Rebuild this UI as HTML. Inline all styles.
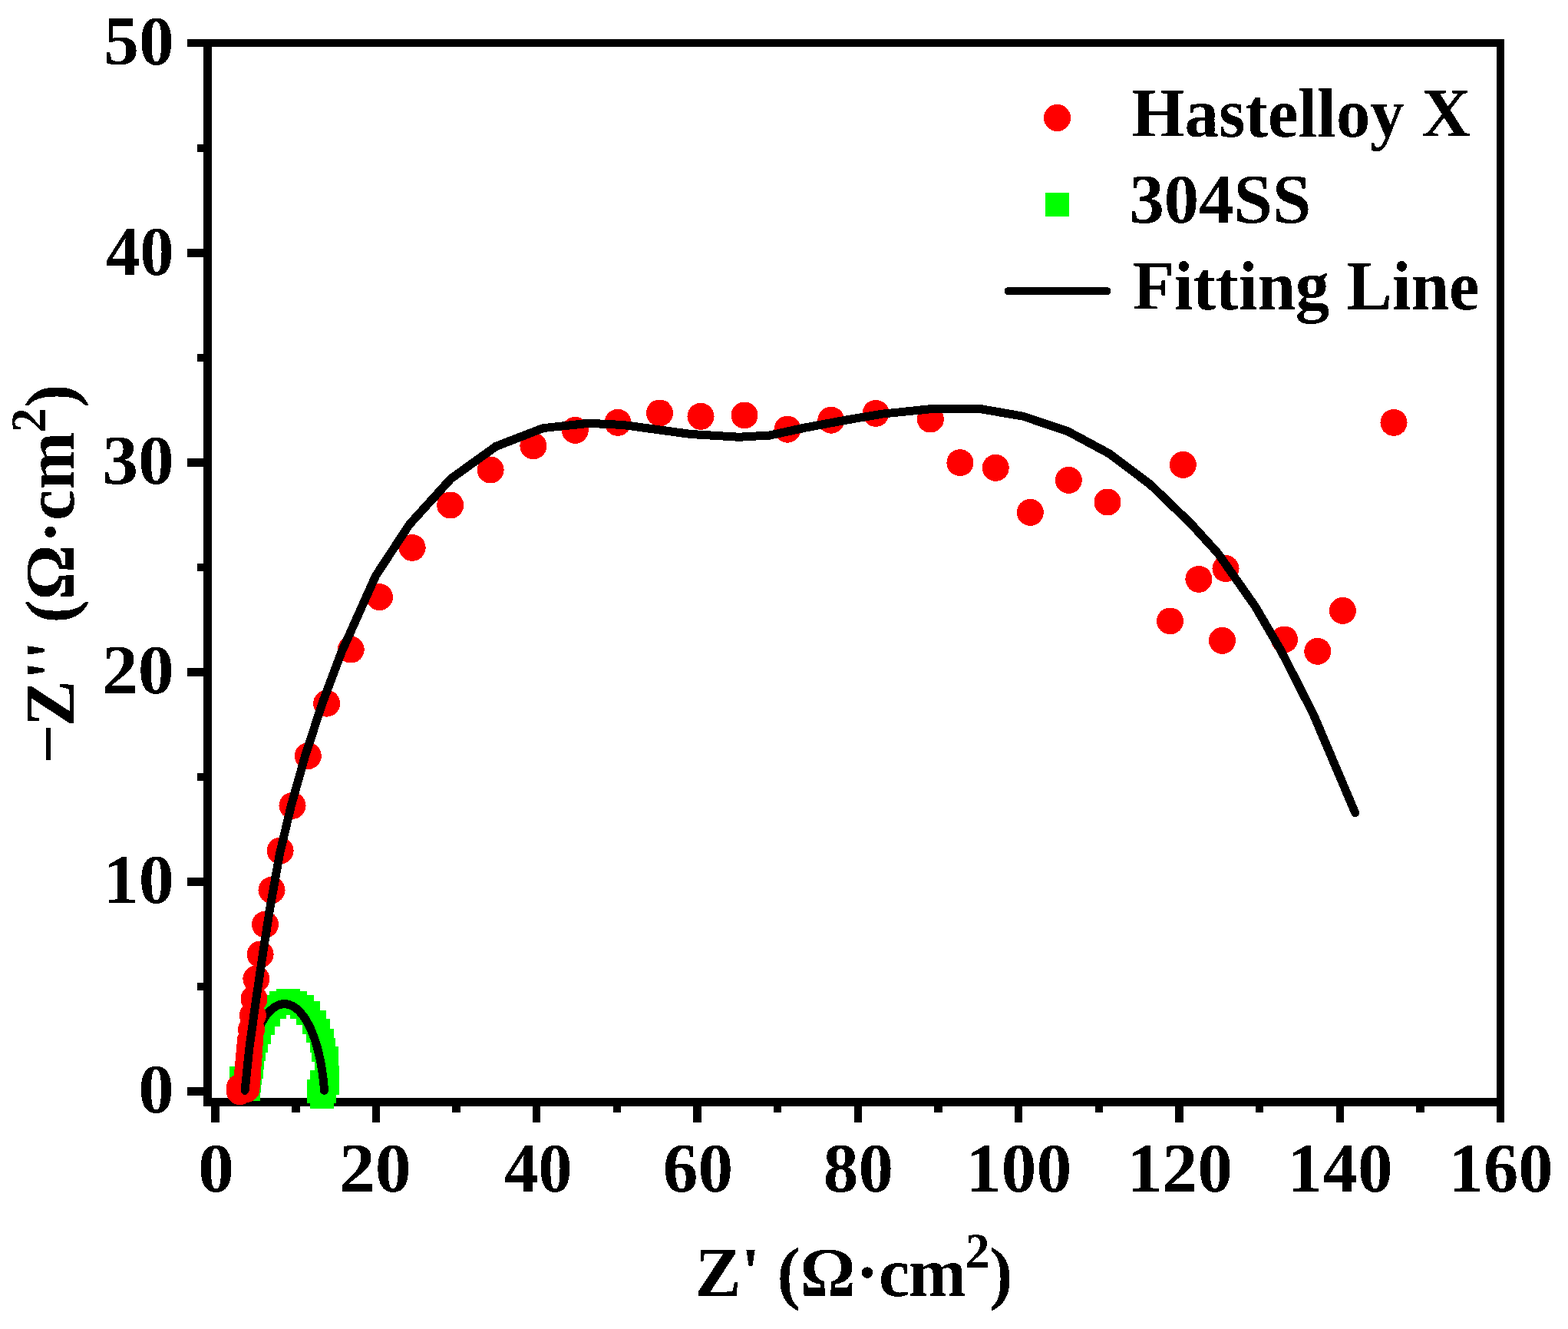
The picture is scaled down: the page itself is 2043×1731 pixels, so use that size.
<!DOCTYPE html>
<html lang="en"><head><meta charset="utf-8"><title>Nyquist plot</title>
<style>
html,body{margin:0;padding:0;background:#fff;}
body{width:2043px;height:1731px;overflow:hidden;}
svg{display:block;}
text{font-family:"Liberation Serif", "DejaVu Serif", serif;font-weight:bold;fill:#000;}
</style></head><body>
<svg xmlns="http://www.w3.org/2000/svg" width="2043" height="1731" viewBox="0 0 2043 1731">
<defs><filter id="hard" filterUnits="userSpaceOnUse" x="0" y="0" width="2043" height="1731" color-interpolation-filters="sRGB"><feComponentTransfer><feFuncR type="discrete" tableValues="0 1"/><feFuncG type="discrete" tableValues="0 1"/><feFuncB type="discrete" tableValues="0 1"/><feFuncA type="discrete" tableValues="0 1"/></feComponentTransfer></filter></defs>
<rect x="0" y="0" width="2043" height="1731" fill="#fff"/>
<g filter="url(#hard)">
<g fill="#000" shape-rendering="crispEdges">
<rect x="265" y="51" width="11" height="1390"/>
<rect x="1950" y="51" width="10" height="1390"/>
<rect x="265" y="51" width="1695" height="10"/>
<rect x="265" y="1430" width="1695" height="11"/>
<rect x="244" y="1416" width="22" height="11"/>
<rect x="257" y="1280" width="9" height="10"/>
<rect x="244" y="1143" width="22" height="11"/>
<rect x="257" y="1007" width="9" height="10"/>
<rect x="244" y="870" width="22" height="11"/>
<rect x="257" y="734" width="9" height="10"/>
<rect x="244" y="597" width="22" height="11"/>
<rect x="257" y="461" width="9" height="10"/>
<rect x="244" y="324" width="22" height="11"/>
<rect x="257" y="188" width="9" height="10"/>
<rect x="244" y="51" width="22" height="10"/>
<rect x="275" y="1440" width="11" height="22"/>
<rect x="380" y="1440" width="11" height="9"/>
<rect x="485" y="1440" width="10" height="22"/>
<rect x="589" y="1440" width="11" height="9"/>
<rect x="694" y="1440" width="10" height="22"/>
<rect x="799" y="1440" width="10" height="9"/>
<rect x="903" y="1440" width="11" height="22"/>
<rect x="1008" y="1440" width="10" height="9"/>
<rect x="1113" y="1440" width="10" height="22"/>
<rect x="1217" y="1440" width="11" height="9"/>
<rect x="1322" y="1440" width="10" height="22"/>
<rect x="1427" y="1440" width="10" height="9"/>
<rect x="1531" y="1440" width="11" height="22"/>
<rect x="1636" y="1440" width="10" height="9"/>
<rect x="1741" y="1440" width="10" height="22"/>
<rect x="1845" y="1440" width="11" height="9"/>
<rect x="1950" y="1440" width="10" height="22"/>
</g>
<g fill="#00ff00" shape-rendering="crispEdges">
<rect x="299.0" y="1389.0" width="31" height="31"/>
<rect x="303.0" y="1396.0" width="31" height="31"/>
<rect x="308.0" y="1403.0" width="31" height="31"/>
<rect x="309.0" y="1392.0" width="31" height="31"/>
<rect x="310.0" y="1382.0" width="31" height="31"/>
<rect x="312.0" y="1374.0" width="31" height="31"/>
<rect x="313.0" y="1362.0" width="31" height="31"/>
<rect x="315.0" y="1351.0" width="31" height="31"/>
<rect x="318.0" y="1340.0" width="31" height="31"/>
<rect x="322.0" y="1329.0" width="31" height="31"/>
<rect x="327.0" y="1317.0" width="31" height="31"/>
<rect x="334.0" y="1306.0" width="31" height="31"/>
<rect x="342.0" y="1296.0" width="31" height="31"/>
<rect x="351.0" y="1291.0" width="31" height="31"/>
<rect x="360.0" y="1288.0" width="31" height="31"/>
<rect x="369.0" y="1291.0" width="31" height="31"/>
<rect x="378.0" y="1296.0" width="31" height="31"/>
<rect x="386.0" y="1304.0" width="31" height="31"/>
<rect x="394.0" y="1316.0" width="31" height="31"/>
<rect x="399.0" y="1327.0" width="31" height="31"/>
<rect x="404.0" y="1340.0" width="31" height="31"/>
<rect x="406.0" y="1352.0" width="31" height="31"/>
<rect x="410.0" y="1363.0" width="31" height="31"/>
<rect x="410.0" y="1377.0" width="31" height="31"/>
<rect x="411.0" y="1388.0" width="31" height="31"/>
<rect x="411.0" y="1395.0" width="31" height="31"/>
<rect x="407.0" y="1406.0" width="31" height="31"/>
<rect x="404.0" y="1413.0" width="31" height="31"/>
<rect x="400.0" y="1406.0" width="31" height="31"/>
<rect x="404.0" y="1394.0" width="31" height="31"/>
</g>
<polyline fill="none" stroke="#000" stroke-width="11" stroke-linecap="round" stroke-linejoin="round" points="319.0,1420.1 319.5,1413.9 320.1,1407.7 320.8,1401.7 321.6,1395.7 322.5,1389.8 323.6,1384.0 324.7,1378.4 325.9,1372.9 327.2,1367.6 328.7,1362.4 330.2,1357.4 331.8,1352.6 333.4,1348.0 335.2,1343.6 337.0,1339.4 338.9,1335.5 340.9,1331.7 343.0,1328.3 345.1,1325.0 347.2,1322.1 349.4,1319.4 351.7,1316.9 354.0,1314.8 356.3,1312.9 358.6,1311.3 361.0,1310.0 363.4,1308.9 365.9,1308.2 368.3,1307.8 370.7,1307.6 373.2,1307.8 375.6,1308.2 378.0,1308.9 380.4,1310.0 382.8,1311.3 385.2,1312.9 387.5,1314.8 389.8,1316.9 392.0,1319.4 394.2,1322.1 396.4,1325.1 398.5,1328.3 400.5,1331.8 402.5,1335.5 404.4,1339.4 406.2,1343.6 408.0,1348.0 409.7,1352.6 411.3,1357.4 412.8,1362.4 414.2,1367.6 415.5,1372.9 416.7,1378.4 417.9,1384.1 418.9,1389.8 419.8,1395.7 420.7,1401.7 421.4,1407.8 422.0,1413.9 422.5,1420.2"/>
<g fill="#ff0000">
<circle cx="312.5" cy="1416.2" r="17.5"/>
<circle cx="312.5" cy="1421.7" r="17.5"/>
<circle cx="321.0" cy="1418.5" r="17.5"/>
<circle cx="321.6" cy="1412.0" r="17.5"/>
<circle cx="322.2" cy="1405.0" r="17.5"/>
<circle cx="322.8" cy="1396.0" r="17.5"/>
<circle cx="323.4" cy="1386.0" r="17.5"/>
<circle cx="324.2" cy="1376.0" r="17.5"/>
<circle cx="325.0" cy="1366.0" r="17.5"/>
<circle cx="326.0" cy="1356.0" r="17.5"/>
<circle cx="327.5" cy="1340.7" r="17.5"/>
<circle cx="329.3" cy="1322.5" r="17.5"/>
<circle cx="331.0" cy="1301.0" r="17.5"/>
<circle cx="333.9" cy="1275.0" r="17.5"/>
<circle cx="339.1" cy="1243.0" r="17.5"/>
<circle cx="345.5" cy="1204.1" r="17.5"/>
<circle cx="354.0" cy="1159.3" r="17.5"/>
<circle cx="365.1" cy="1108.1" r="17.5"/>
<circle cx="381.0" cy="1049.4" r="17.5"/>
<circle cx="401.3" cy="984.6" r="17.5"/>
<circle cx="425.6" cy="916.2" r="17.5"/>
<circle cx="457.2" cy="846.1" r="17.5"/>
<circle cx="494.5" cy="777.6" r="17.5"/>
<circle cx="537.1" cy="713.4" r="17.5"/>
<circle cx="586.7" cy="658.0" r="17.5"/>
<circle cx="639.1" cy="612.0" r="17.5"/>
<circle cx="694.9" cy="580.9" r="17.5"/>
<circle cx="749.3" cy="560.3" r="17.5"/>
<circle cx="805.0" cy="550.3" r="17.5"/>
<circle cx="859.5" cy="538.0" r="17.5"/>
<circle cx="913.0" cy="542.3" r="17.5"/>
<circle cx="970.0" cy="540.9" r="17.5"/>
<circle cx="1026.0" cy="559.2" r="17.5"/>
<circle cx="1082.8" cy="547.2" r="17.5"/>
<circle cx="1141.1" cy="538.4" r="17.5"/>
<circle cx="1212.3" cy="546.0" r="17.5"/>
<circle cx="1250.9" cy="602.7" r="17.5"/>
<circle cx="1297.2" cy="609.3" r="17.5"/>
<circle cx="1342.3" cy="667.3" r="17.5"/>
<circle cx="1392.3" cy="625.3" r="17.5"/>
<circle cx="1443.0" cy="654.0" r="17.5"/>
<circle cx="1541.3" cy="605.3" r="17.5"/>
<circle cx="1524.6" cy="808.9" r="17.5"/>
<circle cx="1561.9" cy="754.4" r="17.5"/>
<circle cx="1597.0" cy="740.6" r="17.5"/>
<circle cx="1592.5" cy="834.4" r="17.5"/>
<circle cx="1673.5" cy="832.9" r="17.5"/>
<circle cx="1716.8" cy="848.3" r="17.5"/>
<circle cx="1749.4" cy="795.4" r="17.5"/>
<circle cx="1816.0" cy="550.4" r="17.5"/>
</g>
<polyline fill="none" stroke="#000" stroke-width="11" stroke-linecap="round" stroke-linejoin="round" points="319.1,1420.2 324.6,1367.0 333.2,1305.0 342.5,1242.0 352.2,1180.0 364.9,1110.0 379.2,1050.0 397.4,985.0 420.3,915.0 444.7,850.0 489.5,750.0 533.5,683.0 587.5,623.5 646.0,581.5 707.5,557.6 766.5,551.3 812.0,553.5 900.0,565.5 963.0,569.2 1002.8,567.0 1046.8,557.5 1105.6,546.5 1149.6,539.1 1200.0,534.0 1213.8,532.5 1276.9,532.5 1332.7,542.1 1391.5,561.9 1445.8,591.2 1498.7,631.0 1551.6,682.0 1586.8,720.6 1635.3,789.6 1668.7,846.8 1711.1,930.0 1765.7,1058.6"/>
<g font-size="90">
<text transform="translate(135.25 83.98) scale(1.0157 1.0197)">50</text>
<text transform="translate(138.02 358.08) scale(0.9848 1.0180)">40</text>
<text transform="translate(133.37 629.99) scale(1.0386 1.0148)">30</text>
<text transform="translate(132.82 903.08) scale(1.0448 1.0180)">20</text>
<text transform="translate(134.75 1175.98) scale(1.0214 1.0180)">10</text>
<text transform="translate(180.29 1448.98) scale(1.0316 1.0164)">0</text>
<text transform="translate(258.04 1551.98) scale(1.0447 1.0164)">0</text>
<text transform="translate(441.82 1551.98) scale(1.0448 1.0164)">20</text>
<text transform="translate(657.02 1551.98) scale(0.9848 1.0164)">40</text>
<text transform="translate(863.76 1551.98) scale(1.0144 1.0164)">60</text>
<text transform="translate(1072.86 1551.98) scale(1.0120 1.0164)">80</text>
<text transform="translate(1258.67 1551.98) scale(1.0193 1.0164)">100</text>
<text transform="translate(1468.79 1551.98) scale(1.0161 1.0164)">120</text>
<text transform="translate(1677.60 1551.98) scale(1.0145 1.0164)">140</text>
<text transform="translate(1887.86 1551.98) scale(1.0056 1.0164)">160</text>
<text transform="translate(1474.42 177.90) scale(0.9872 1.0153)">Hastelloy X</text>
<text transform="translate(1471.47 290.08) scale(1.0075 1.0213)">304SS</text>
<text transform="translate(1475.52 402.80) scale(0.9879 1.0102)">Fitting Line</text>
<text transform="translate(0 1687.90) scale(1 1.020)" x="905.52 965.53 995.00 1012.49 1042.47 1115.01 1145.01 1184.13" y="0">Z' (Ω·cm<tspan x="1257.66" dy="-36.08" font-size="63.5">2</tspan><tspan x="1289.39" dy="36.08">)</tspan></text>
<text transform="translate(96.00 1000.00) rotate(-90) scale(1 1.020)" x="5.44 53.67 114.48 140.53 174.00 188.59 218.52 292.16 322.11 362.18" y="0"><tspan dy="-2.49">−</tspan><tspan dy="2.49">Z'' (Ω·cm</tspan><tspan x="436.71" dy="-36.27" font-size="63.5">2</tspan><tspan x="469.54" dy="36.27">)</tspan></text>
</g>
<circle cx="1377.5" cy="153.5" r="17.5" fill="#ff0000"/>
<rect x="1362" y="251" width="31" height="31" fill="#00ff00" shape-rendering="crispEdges"/>
<line x1="1314" y1="379" x2="1442" y2="379" stroke="#000" stroke-width="10.4" stroke-linecap="round"/>
</g>
</svg></body></html>
